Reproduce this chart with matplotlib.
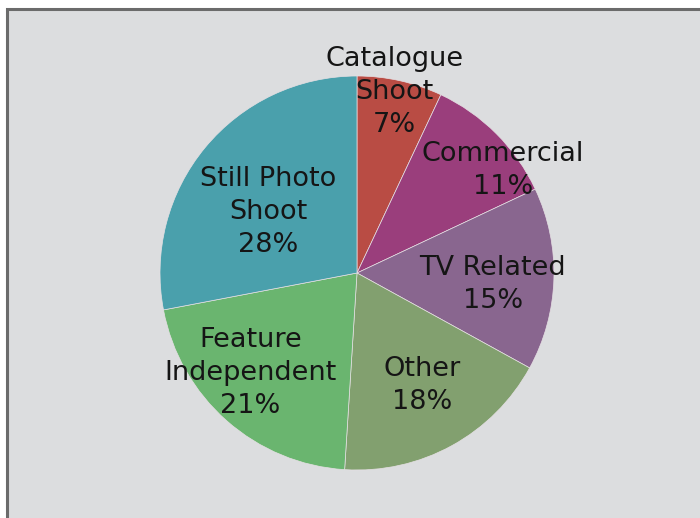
import matplotlib
matplotlib.use("Agg")
import matplotlib.pyplot as plt
from matplotlib.patches import Rectangle

# ── Datos ──────────────────────────────────────────────────────────────
labels = ["Catalogue\nShoot", "Commercial", "TV Related", "Other",
          "Feature\nIndependent", "Still Photo\nShoot"]
shares = [7, 11, 15, 18, 21, 28]
colors = ["#b94c44", "#9a3e7c", "#89668f", "#82a06f", "#6ab56f", "#4aa0ac"]

# posiciones de las etiquetas (radio del pie = 1)
label_pos = [(0.19, 0.92), (0.74, 0.52), (0.69, -0.06),
             (0.33, -0.57), (-0.54, -0.51), (-0.45, 0.31)]

fig = plt.figure(figsize=(7.0, 5.18), dpi=100)
fig.patch.set_facecolor("white")

# fondo gris con borde superior e izquierdo
bg = Rectangle((7 / 700, -0.1), 1.2, (518 - 8.5) / 518 + 0.1,
               transform=fig.transFigure, facecolor="#dcdddf",
               edgecolor="#6b6b6b", linewidth=2.2, zorder=-10)
fig.patches.append(bg)

ax = fig.add_axes([160 / 700, 48 / 518, 394 / 700, 394 / 518])
ax.set_zorder(5)
ax.set_facecolor("none")

ax.pie(shares, colors=colors, startangle=90, counterclock=False, radius=1,
       wedgeprops=dict(edgecolor="#e6e0e4", linewidth=0.5))

for lab, val, (x, y) in zip(labels, shares, label_pos):
    ax.text(x, y, f"{lab}\n{val}%", ha="center", va="center",
            fontsize=19.5, color="#151515", linespacing=1.35, clip_on=False)

ax.set_xlim(-1, 1)
ax.set_ylim(-1, 1)
ax.set_aspect("auto")
ax.axis("off")

fig.savefig("out.png", dpi=100)
